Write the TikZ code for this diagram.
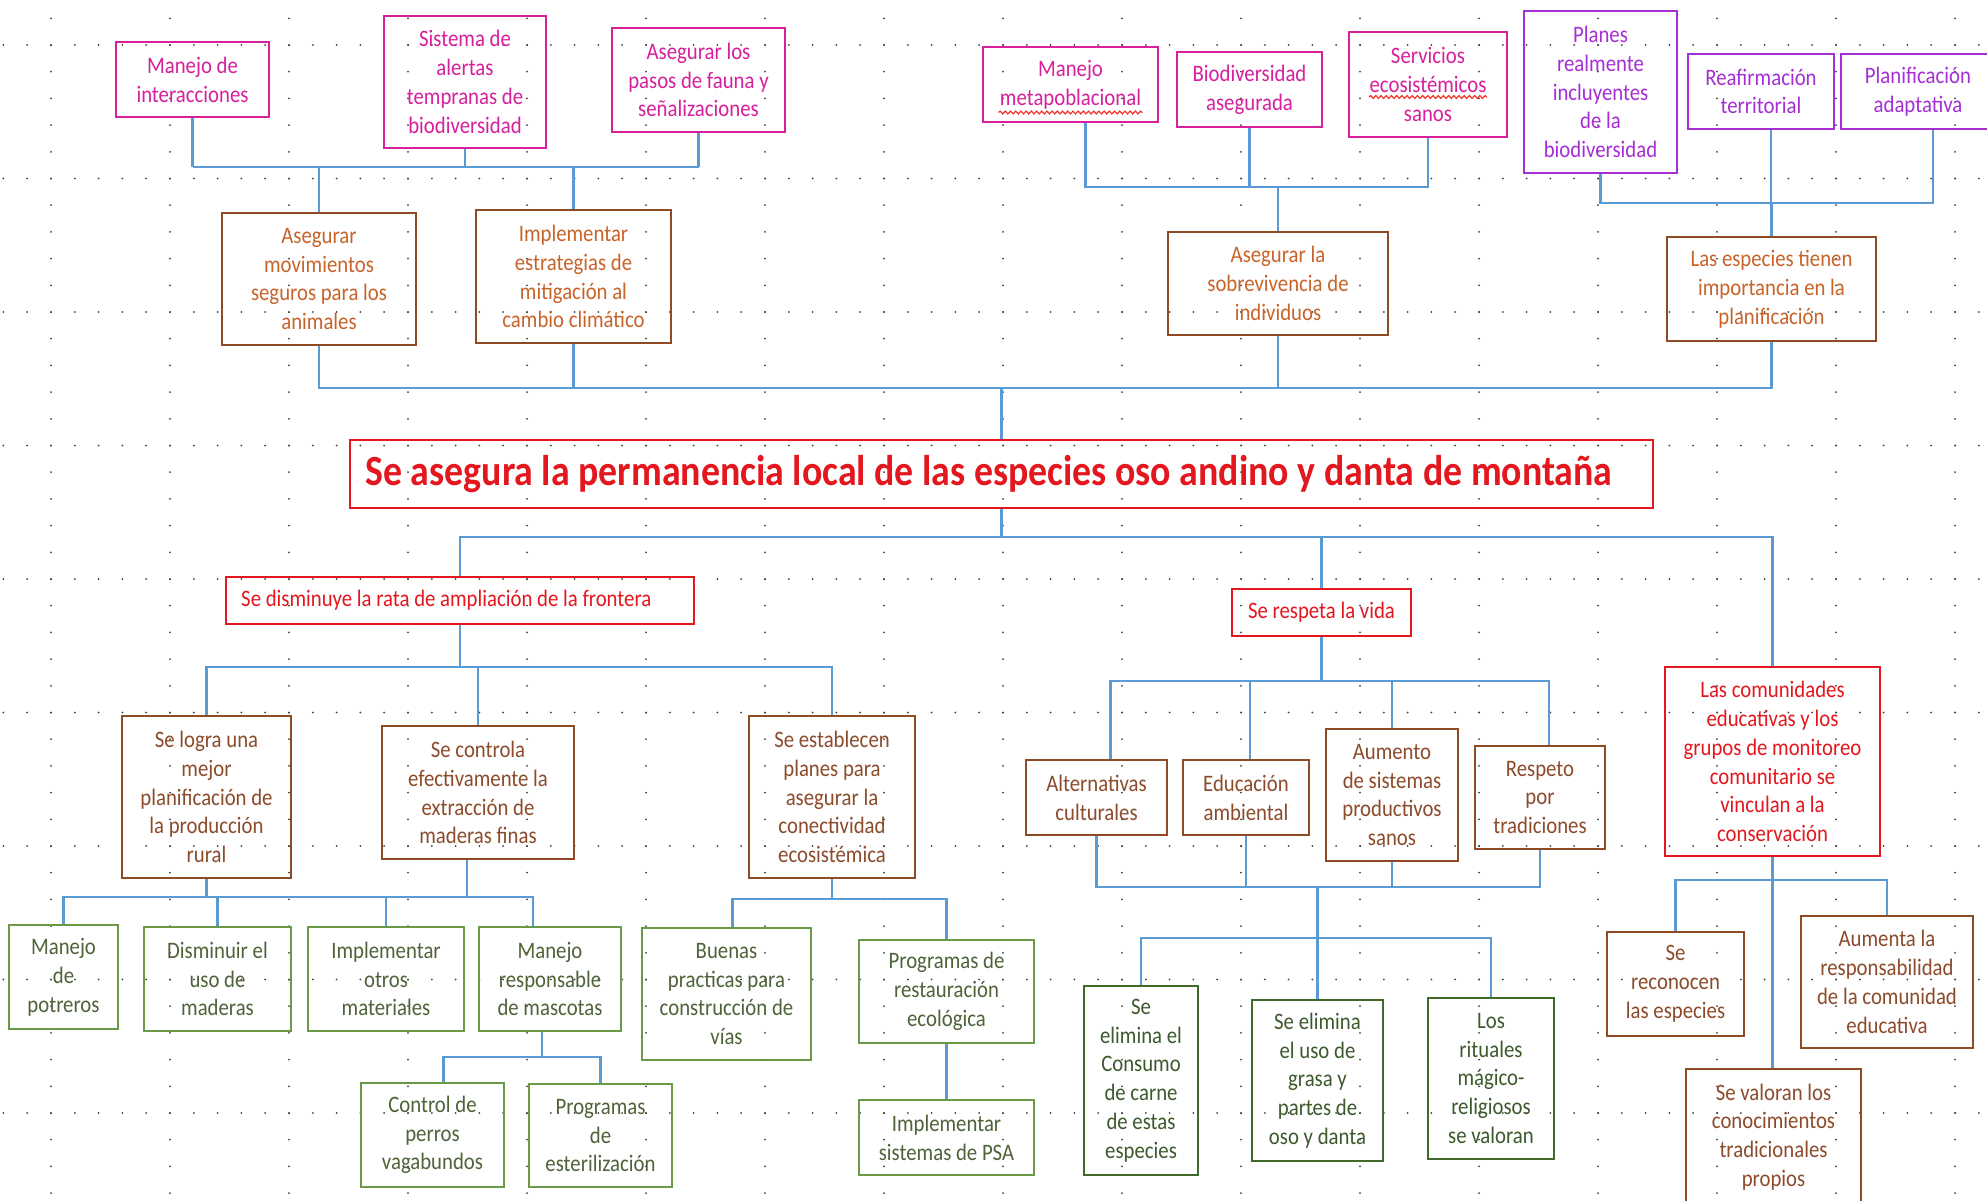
\documentclass[tikz,border=0pt]{standalone}
\usepackage{fontspec}
\setmainfont{Carlito}[FakeStretch=0.88]
\usepackage{xcolor}
\usepackage{tikz}
\usetikzlibrary{backgrounds,calc,decorations.pathmorphing}
\definecolor{mpRed}{HTML}{E3171E}
\definecolor{mpMag}{HTML}{D6209C}
\definecolor{mpPurple}{HTML}{A52FD4}
\definecolor{mpBrown}{HTML}{8E4B24}
\definecolor{mpOrange}{HTML}{C8642A}
\definecolor{mpBrownTxt}{HTML}{8C4B2B}
\definecolor{mpGreen}{HTML}{6A9A48}
\definecolor{mpGreenTxt}{HTML}{4F6339}
\definecolor{mpDkGreen}{HTML}{3F6A2A}
\definecolor{mpDkGreenTxt}{HTML}{3D5A2C}
\definecolor{mpBlue}{HTML}{5B9BD5}
\definecolor{mpDot}{HTML}{404040}
\definecolor{mpSpell}{HTML}{F0342C}
\newcommand{\boxfont}{\fontsize{11.8}{14.4}\selectfont}

\begin{document}
\begin{tikzpicture}[
  x=0.5pt, y=-0.5pt,
  box/.style={draw, line width=1.3pt, align=center, inner sep=2pt, font=\boxfont},
  sz/.style 2 args={minimum width=#1*0.5pt, minimum height=#2*0.5pt},
  mag/.style={box, draw=mpMag, text=mpMag},
  purp/.style={box, draw=mpPurple, text=mpPurple},
  goal/.style={box, draw=mpBrown, text=mpOrange},
  redb/.style={box, draw=mpRed, text=mpRed},
  brn/.style={box, draw=mpBrown, text=mpBrownTxt},
  grn/.style={box, draw=mpGreen, text=mpGreenTxt},
  dgrn/.style={box, draw=mpDkGreen, text=mpDkGreenTxt},
  link/.style={draw=mpBlue, line width=1.2pt},
  spell/.style={draw=mpSpell, line width=0.6pt, decorate,
                decoration={snake, amplitude=0.7pt, segment length=2.6pt}},
]
\useasboundingbox (0,0) rectangle (1987,1200);

% ── Upper level: magenta / purple aims, brown goals ──────────────────────────
\node[mag, sz={153}{75}]   (minter) at (192.5,79.5) {Manejo de\\interacciones};
\node[mag, sz={162}{132}]  (salert) at (465,82)     {Sistema de\\alertas\\tempranas de\\biodiversidad};
\node[mag, sz={173}{104}]  (apasos) at (698.5,80)   {Asegurar los\\pasos de fauna y\\señalizaciones};
\node[goal, sz={194}{132}] (amov)   at (319,279)    {Asegurar\\movimientos\\seguros para los\\animales};
\node[goal, sz={195}{133}] (aimpl)  at (573.5,276.5) {Implementar\\estrategias de\\mitigación al\\cambio climático};

\node[mag, sz={175}{75}]   (mmeta)  at (1070.5,84.5) {Manejo\\metapoblacional};
\node[mag, sz={145}{75}]   (biodiv) at (1249.5,89.5) {Biodiversidad\\asegurada};
\node[mag, sz={158}{105}]  (servic) at (1428,84.5)   {Servicios\\ecosistémicos\\sanos};
\node[goal, sz={220}{103}] (asobre) at (1278,283.5)  {Asegurar la\\sobrevivencia de\\individuos};

\node[purp, sz={153}{162}] (planes) at (1600.5,92)   {Planes\\realmente\\incluyentes\\de la\\biodiversidad};
\node[purp, sz={146}{75}]  (reafir) at (1761,91.5)   {Reafirmación\\territorial};
\node[purp, sz={154}{75}]  (planif) at (1918,91.5)   {Planificación\\adaptativa};
\node[goal, sz={209}{104}] (lasesp) at (1771.5,289)  {Las especies tienen\\importancia en la\\planificación};

% spell-check waves under two words
\draw[spell] ($(mmeta.center)+(-72,28)$) -- ($(mmeta.center)+(72,28)$);
\draw[spell] ($(servic.center)+(-59,12.5)$) -- ($(servic.center)+(59,12.5)$);

% ── Central aim ───────────────────────────────────────────────────────────────
\node[redb, sz={1303}{68}, font=\fontsize{21.5}{26}\selectfont\bfseries] (title) at (1001.5,474)
  {\hspace*{-12.6pt}Se asegura la permanencia local de las especies oso andino y danta de montaña};

% ── Lower level: red means ────────────────────────────────────────────────────
\node[redb, sz={468}{47}]  (sdism)  at (460,600.5)    {\hspace*{-13.7pt}Se disminuye la rata de ampliación de la frontera};
\node[redb, sz={179}{47}]  (sresp)  at (1321.5,612.5) {Se respeta la vida};
\node[redb, sz={215}{189}] (lascom) at (1772.5,761.5) {Las comunidades\\educativas y los\\grupos de monitoreo\\comunitario se\\vinculan a la\\conservación};

% frontier branch
\node[brn, sz={169}{162}] (slogra) at (206.5,797) {Se logra una\\mejor\\planificación de\\la producción\\rural};
\node[brn, sz={192}{133}] (scontr) at (478,792.5) {Se controla\\efectivamente la\\extracción de\\maderas finas};
\node[brn, sz={166}{162}] (sestab) at (832,797)   {Se establecen\\planes para\\asegurar la\\conectividad\\ecosistémica};

\node[grn, sz={109}{104}] (mpotr)   at (63.5,977)    {Manejo\\de\\potreros};
\node[grn, sz={147}{104}] (dismin)  at (217.5,979)   {Disminuir el\\uso de\\maderas};
\node[grn, sz={156}{104}] (implot)  at (386,979)     {Implementar\\otros\\materiales};
\node[grn, sz={142}{104}] (mresp)   at (550,979)     {Manejo\\responsable\\de mascotas};
\node[grn, sz={143}{104}] (cperros) at (432.5,1135)  {Control de\\perros\\vagabundos};
\node[grn, sz={143}{103}] (pester)  at (600.5,1135.5) {Programas\\de\\esterilización};
\node[grn, sz={169}{132}] (buenas)  at (726.5,994)   {Buenas\\practicas para\\construcción de\\vías};
\node[grn, sz={175}{103}] (prest)   at (946.5,991.5) {Programas de\\restauración\\ecológica};
\node[grn, sz={175}{75}]  (ipsa)    at (946.5,1137.5) {Implementar\\sistemas de PSA};

% life branch
\node[brn, sz={141}{75}]  (altcul)  at (1096.5,797.5) {Alternativas\\culturales};
\node[brn, sz={126}{75}]  (educ)    at (1246,797.5)   {Educación\\ambiental};
\node[brn, sz={132}{132}] (aument)  at (1392,795)     {Aumento\\de sistemas\\productivos\\sanos};
\node[brn, sz={130}{103}] (respeto) at (1540,797.5)   {Respeto\\por\\tradiciones};
\node[dgrn, sz={114}{189}] (econs)  at (1141,1080.5)  {Se\\elimina el\\Consumo\\de carne\\de estas\\especies};
\node[dgrn, sz={131}{161}] (egrasa) at (1317.5,1080.5) {Se elimina\\el uso de\\grasa y\\partes de\\oso y danta};
\node[dgrn, sz={126}{161}] (ritual) at (1491,1078.5)  {Los\\rituales\\mágico-\\religiosos\\se valoran};

% community branch
\node[brn, sz={137}{104}] (srecon) at (1675.5,984)  {Se\\reconocen\\las especies};
\node[brn, sz={172}{132}] (aumres) at (1887,982)    {Aumenta la\\responsabilidad\\de la comunidad\\educativa};
\node[brn, sz={175}{136}] (svalor) at (1773.5,1137) {Se valoran los\\conocimientos\\tradicionales\\propios};

% ── Background: page, dotted grid, connectors ────────────────────────────────
\begin{scope}[on background layer]
  \fill[white] (0,0) rectangle (1987,1200);
  \foreach \r in {0,...,44}{ \foreach \c in {0,...,16}{ \fill[mpDot] ({51+119*\c},{18.3+26.7*\r}) circle (1); } }
  \foreach \r in {0,...,8}{ \foreach \c in {0,...,83}{ \fill[mpDot] ({3.4+23.8*\c},{45+133.5*\r}) circle (1); } }

  % upper groups (xshift in pt = half a pixel step)
  \coordinate (bA) at (0,167);
  \foreach \n in {minter,salert,apasos}{ \draw[link] (\n.south) -- (\n.south |- bA); }
  \draw[link] (minter.south |- bA) -- (apasos.south |- bA);
  \foreach \n in {amov,aimpl}{ \draw[link] (\n.north) -- (\n.north |- bA); }

  \coordinate (bB) at (0,187);
  \draw[link] ([xshift=7.5pt]mmeta.south) -- ([xshift=7.5pt]mmeta.south |- bB) -| (servic.south);
  \draw[link] (biodiv.south) -- (biodiv.south |- bB);
  \draw[link] (asobre.north) -- (asobre.north |- bB);

  \coordinate (bC) at (0,203);
  \draw[link] (planes.south) -- (planes.south |- bC) -| ([xshift=7.5pt]planif.south);
  \draw[link] ([xshift=5pt]reafir.south) -- ([xshift=5pt]reafir.south |- bC);
  \draw[link] (lasesp.north) -- (lasesp.north |- bC);

  % trunk above and below the central aim
  \coordinate (bTop) at (0,388);
  \draw[link] (amov.south) -- (amov.south |- bTop) -| (lasesp.south);
  \foreach \n in {aimpl,asobre}{ \draw[link] (\n.south) -- (\n.south |- bTop); }
  \draw[link] (title.north) -- (title.north |- bTop);

  \coordinate (bMid) at (0,537);
  \draw[link] (sdism.north) -- (sdism.north |- bMid) -| (lascom.north);
  \draw[link] (title.south) -- (title.south |- bMid);
  \draw[link] (sresp.north) -- (sresp.north |- bMid);

  % frontier branch
  \coordinate (bL) at (0,667);
  \draw[link] (slogra.north) -- (slogra.north |- bL) -| (sestab.north);
  \draw[link] (sdism.south) -- (sdism.south |- bL);
  \draw[link] (scontr.north) -- (scontr.north |- bL);

  \coordinate (bL2) at (0,897);
  \draw[link] (mpotr.north) -- (mpotr.north |- bL2) -| ([xshift=-8.5pt]mresp.north);
  \draw[link] (slogra.south) -- (slogra.south |- bL2);
  \draw[link] ([xshift=-5.5pt]scontr.south) -- ([xshift=-5.5pt]scontr.south |- bL2);
  \foreach \n in {dismin,implot}{ \draw[link] (\n.north) -- (\n.north |- bL2); }

  \coordinate (bL3) at (0,1057);
  \draw[link] ([xshift=5.5pt]cperros.north) -- ([xshift=5.5pt]cperros.north |- bL3) -| (pester.north);
  \draw[link] ([xshift=-4pt]mresp.south) -- ([xshift=-4pt]mresp.south |- bL3);

  \coordinate (bL4) at (0,899);
  \draw[link] ([xshift=3pt]buenas.north) -- ([xshift=3pt]buenas.north |- bL4) -| (prest.north);
  \draw[link] (sestab.south) -- (sestab.south |- bL4);
  \draw[link] (prest.south) -- (ipsa.north);

  % life branch
  \coordinate (bR1) at (0,681);
  \draw[link] ([xshift=7pt]altcul.north) -- ([xshift=7pt]altcul.north |- bR1) -| ([xshift=4.5pt]respeto.north);
  \draw[link] ([xshift=2pt]educ.north) -- ([xshift=2pt]educ.north |- bR1);
  \draw[link] (aument.north) -- (aument.north |- bR1);
  \draw[link] (sresp.south) -- (sresp.south |- bR1);

  \coordinate (bR2) at (0,887);
  \draw[link] (altcul.south) -- (altcul.south |- bR2) -| (respeto.south);
  \foreach \n in {educ,aument}{ \draw[link] (\n.south) -- (\n.south |- bR2); }
  \coordinate (bR3) at (0,938);
  \draw[link] (econs.north) -- (econs.north |- bR3) -| (ritual.north);
  \draw[link] (egrasa.north) -- (egrasa.north |- bR2);

  % community branch
  \coordinate (bR4) at (0,880);
  \draw[link] (srecon.north) -- (srecon.north |- bR4) -| (aumres.north);
  \draw[link] (lascom.south) -- (lascom.south |- svalor.north);
\end{scope}

\end{tikzpicture}
\end{document}
